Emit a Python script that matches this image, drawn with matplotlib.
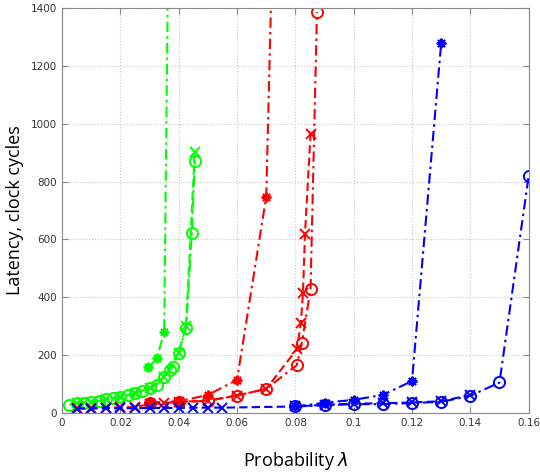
import matplotlib
matplotlib.use("Agg")
import matplotlib.pyplot as plt
from matplotlib.ticker import FuncFormatter

# green curves
g_o_x = [0.0025, 0.005, 0.0075, 0.01, 0.0125, 0.015, 0.0175, 0.02, 0.0225, 0.025,
         0.0275, 0.03, 0.0325, 0.035, 0.037, 0.038, 0.04, 0.0425, 0.0445, 0.0455]
g_o_y = [28, 33, 35, 38, 42, 47, 51, 55, 62, 68, 76, 87, 98, 125, 149, 160, 208, 294, 623, 872]
g_x_x = [0.005, 0.01, 0.015, 0.02, 0.025, 0.03, 0.035, 0.04, 0.0425, 0.0455]
g_x_y = [33, 38, 47, 55, 68, 87, 125, 208, 300, 903]
g_s_x = [0.0295, 0.0325, 0.035, 0.0365]
g_s_y = [157, 188, 280, 1700]

# red curves
r_o_x = [0.03, 0.04, 0.05, 0.06, 0.07, 0.0805, 0.0822, 0.0852, 0.0874]
r_o_y = [33, 37, 42, 60, 83, 165, 242, 427, 1386]
r_x_x = [0.005, 0.01, 0.015, 0.02, 0.025, 0.03, 0.035, 0.04, 0.05, 0.06, 0.07,
         0.0805, 0.0819, 0.0826, 0.0833, 0.0852]
r_x_y = [16, 17, 18, 19, 20, 30, 34, 38, 42, 60, 83, 220, 311, 415, 620, 964]
r_s_x = [0.03, 0.04, 0.05, 0.06, 0.07, 0.072]
r_s_y = [36, 40, 62, 114, 748, 1560]

# blue curves
b_o_x = [0.08, 0.09, 0.1, 0.11, 0.12, 0.13, 0.14, 0.15, 0.16]
b_o_y = [22, 26, 30, 30, 34, 38, 59, 105, 819]
b_x_x = [0.005, 0.01, 0.015, 0.02, 0.025, 0.03, 0.035, 0.04, 0.045, 0.05, 0.055,
         0.08, 0.09, 0.1, 0.11, 0.12, 0.13, 0.14]
b_x_y = [15, 15, 16, 16, 16, 17, 17, 17, 18, 18, 18, 22, 28, 32, 33, 36, 40, 62]
b_s_x = [0.08, 0.09, 0.1, 0.11, 0.12, 0.13]
b_s_y = [22, 35, 45, 62, 110, 1279]

star = (8, 2, 0)
green = "#00ff00"
dashdot = (0, (5, 2, 1.2, 2))
dashed = (0, (4, 2))

fig = plt.figure(figsize=(5.4, 4.74), dpi=100)
ax = fig.add_axes([0.115, 0.129, 0.864, 0.854])

curves = [
    (g_o_x, g_o_y, green, "o", dashdot),
    (g_x_x, g_x_y, green, "x", dashed),
    (g_s_x, g_s_y, green, star, dashdot),
    (r_o_x, r_o_y, "red", "o", dashdot),
    (r_x_x, r_x_y, "red", "x", dashed),
    (r_s_x, r_s_y, "red", star, dashdot),
    (b_o_x, b_o_y, "blue", "o", dashdot),
    (b_x_x, b_x_y, "blue", "x", dashed),
    (b_s_x, b_s_y, "blue", star, dashdot),
]
for xs, ys, c, m, ls in curves:
    if m == "o":
        ax.plot(xs, ys, ls=ls, color=c, lw=1.5, marker=m, ms=8, mfc="none", mew=1.4)
    else:
        ax.plot(xs, ys, ls=ls, color=c, lw=1.5, marker=m, ms=7, mew=1.4)

ax.set_xlim(0, 0.16)
ax.set_ylim(0, 1400)
ax.set_xticks([i * 0.02 for i in range(9)])
ax.set_yticks(range(0, 1401, 200))
ax.xaxis.set_major_formatter(FuncFormatter(lambda v, p: "%g" % round(v, 2)))
ax.grid(True, ls=":", color="#c8c8c8", lw=0.8)
ax.tick_params(direction="in", top=True, right=True, labelsize=7.5,
               labelcolor="#333333", color="#888888", length=4)
for s in ax.spines.values():
    s.set_color("#888888")

ax.set_xlabel("Probability $\\lambda$", fontsize=13, family="Open Sans", labelpad=16)
ax.set_ylabel("Latency, clock cycles", fontsize=13, family="Open Sans", labelpad=5)

fig.savefig("out.png", dpi=100)
